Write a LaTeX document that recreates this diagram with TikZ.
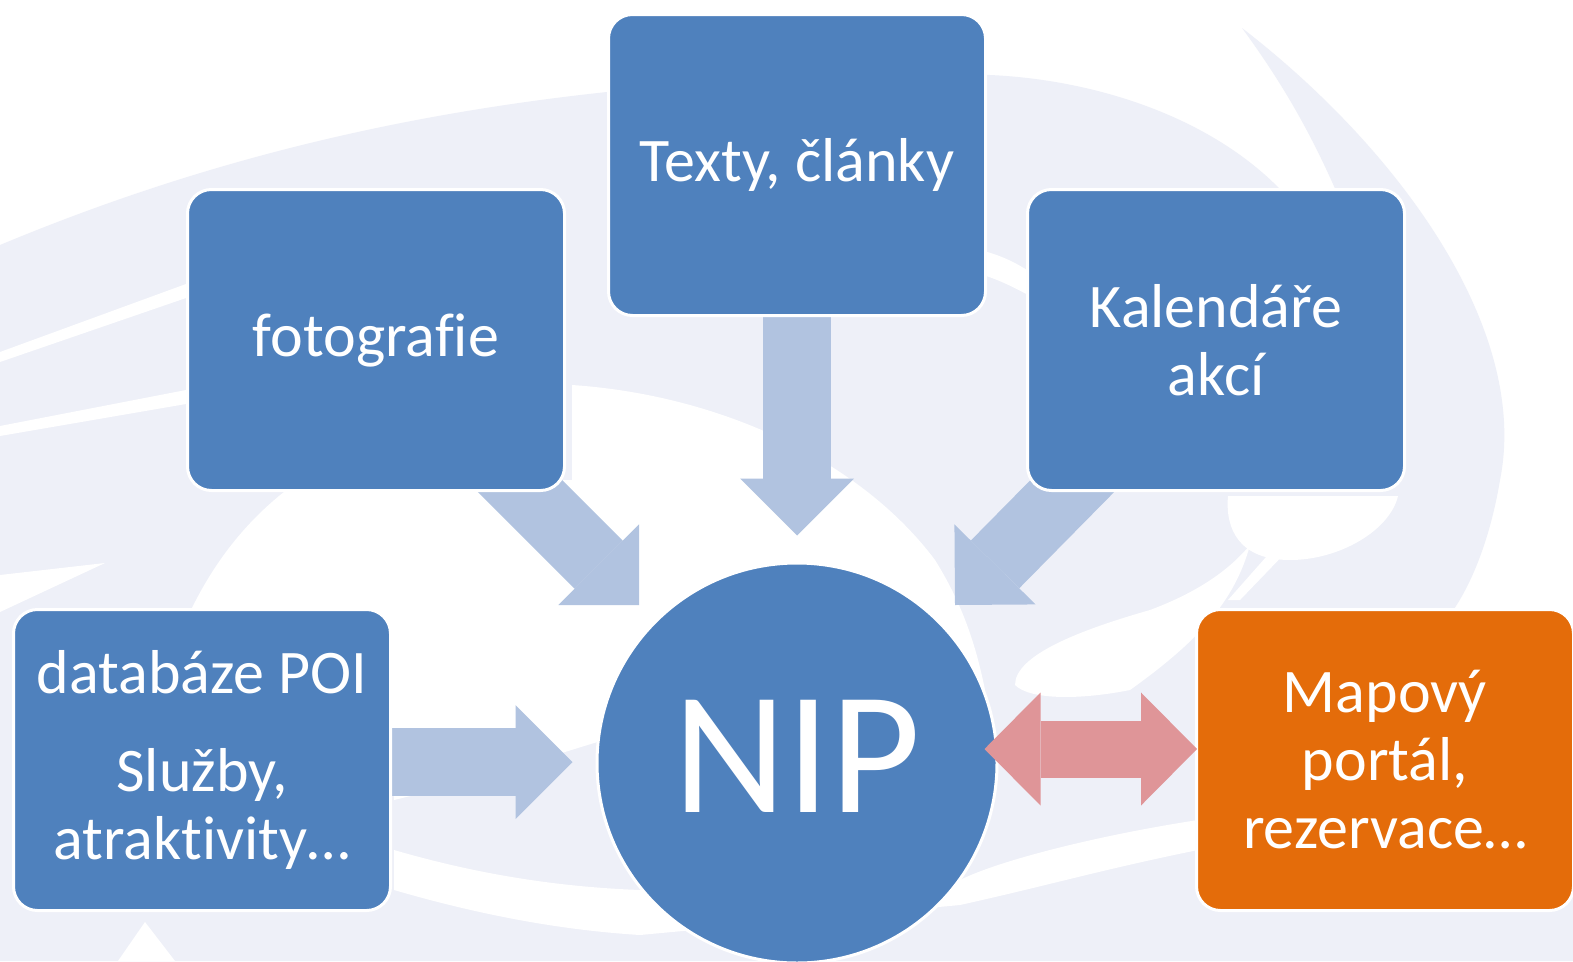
\documentclass[tikz,border=0pt]{standalone}
\usepackage{fontspec}
\setmainfont{Carlito}[Ligatures=NoCommon]
\usetikzlibrary{arrows.meta}
\usetikzlibrary{calc}

\definecolor{boxblue}{HTML}{4F81BD}
\definecolor{maporange}{HTML}{E46C0A}
\definecolor{flowblue}{HTML}{B1C3E0}
\definecolor{flowred}{HTML}{DF9598}
\definecolor{swoosh}{HTML}{EEF0F8}

\pgfdeclarelayer{backdrop}
\pgfdeclarelayer{links}
\pgfsetlayers{backdrop,links,main}

\begin{document}
\begin{tikzpicture}[x=1pt,y=-1pt,
    box/.style={rectangle, rounded corners=24pt, fill=boxblue, draw=white, line width=3pt,
        minimum width=\boxw pt, minimum height=\boxh pt, inner sep=0pt,
        text=white, align=center, font=\fontsize{62}{68}\selectfont},
    flow/.style={draw=flowblue, line width=68pt,
        -{Triangle[length=57pt,width=114pt,line width=0pt]}},
    swap/.style={draw=flowred, line width=57pt,
        {Triangle[length=56pt,width=113pt,line width=0pt]}-{Triangle[length=56pt,width=113pt,line width=0pt]}}]

    % Box and circle dimensions
    \def\boxw{377}   % box width
    \def\boxh{301}   % box height
    \def\nipd{400}   % circle diameter

    \useasboundingbox (0,0) rectangle (1573,961);

    % Sources around the hub
    \node[box] (texty) at (797,165) {Texty, články};
    \node[box] (foto) at (376,340) {fotografie};
    \node[box] (kal) at (1216,340) {Kalendáře\\akcí};
    \node[box] (poi) at (202,760) {databáze POI\\[30pt]Služby,\\atraktivity…};
    \node[box, fill=maporange] (map) at (1385,760) {Mapový\\portál,\\rezervace…};

    % The hub
    \node[circle, fill=boxblue, draw=white, line width=3pt, minimum size=\nipd pt,
        inner sep=0pt, text=white, text depth=14pt,
        font=\fontsize{175}{175}\selectfont] (nip) at (797,763) {NIP};

    % Two-way link to the map portal
    \draw[swap] ($(nip.east)+(-14,-14)$) -- ($(map.west)+(2,-11)$);

    % Block arrows into the hub
    \begin{pgfonlayer}{links}
    \draw[flow] ($(poi.east)+(0,2)$) -- ($(nip.west)+(-23,-1)$);
    \draw[flow] (texty.south) -- ($(nip.north)+(0,-26)$);
    \draw[flow] ($(foto.south east)+(-70,-30)$) -- ($(nip.center)+(-158,-158)$);
    \draw[flow] ($(kal.south west)+(70,-30)$) -- ($(nip.center)+(158,-158)$);
    \end{pgfonlayer}

    % Faint swirl in the background
    \begin{pgfonlayer}{backdrop}
    \fill[white] (0,0) rectangle (1573,961);
    \fill[swoosh] (0,245) .. controls (300,120) and (600,72) .. (990,75)
        .. controls (1100,80) and (1220,120) .. (1290,200) -- (1330,230) -- (1340,200)
        .. controls (1310,130) and (1280,80) .. (1242,28)
        .. controls (1400,150) and (1530,330) .. (1500,480)
        .. controls (1490,540) and (1470,590) .. (1446,620)
        -- (1573,640) -- (1573,961) -- (0,961) -- cycle;
    % white streaks
    \fill[white] (0,352) -- (186,284) -- (186,298) -- (0,362) -- cycle;
    \fill[white] (0,426) -- (186,390) -- (186,404) -- (0,436) -- cycle;
    \fill[white] (0,575) -- (105,563) -- (0,612) -- cycle;
    \fill[white] (980,250) .. controls (1000,255) and (1015,262) .. (1030,272)
        -- (1030,296) .. controls (1015,288) and (1000,280) .. (980,274) -- cycle;
    % open area round the hub
    \fill[white] (190,612) .. controls (215,560) and (250,515) .. (300,480) -- (572,480)
        -- (572,385) .. controls (720,395) and (860,460) .. (935,560)
        .. controls (960,600) and (975,640) .. (985,690) -- (700,730)
        -- (650,728) .. controls (600,738) and (520,770) .. (394,800) -- (380,612) -- cycle;
    \fill[white] (394,850) .. controls (480,875) and (560,887) .. (640,890) -- (960,880)
        .. controls (1000,860) and (1100,835) .. (1198,820) -- (1198,850)
        .. controls (1100,870) and (1050,885) .. (960,905) -- (640,935)
        .. controls (560,930) and (480,915) .. (394,890) -- cycle;
    \fill[white] (118,961) -- (145,922) -- (175,961) -- cycle;
    % right hand leaf and blade
    \fill[white] (1228,496) .. controls (1225,530) and (1240,560) .. (1290,560)
        .. controls (1340,560) and (1390,530) .. (1398,496) -- cycle;
    \fill[white] (1015,685) .. controls (1015,655) and (1080,630) .. (1150,610)
        .. controls (1190,595) and (1225,575) .. (1250,545)
        .. controls (1235,600) and (1200,640) .. (1130,690)
        .. controls (1080,700) and (1030,700) .. (1015,685) -- cycle;
    \fill[white] (1320,496) -- (1340,496) -- (1240,600) -- (1228,600) -- cycle;
    \end{pgfonlayer}

\end{tikzpicture}
\end{document}
